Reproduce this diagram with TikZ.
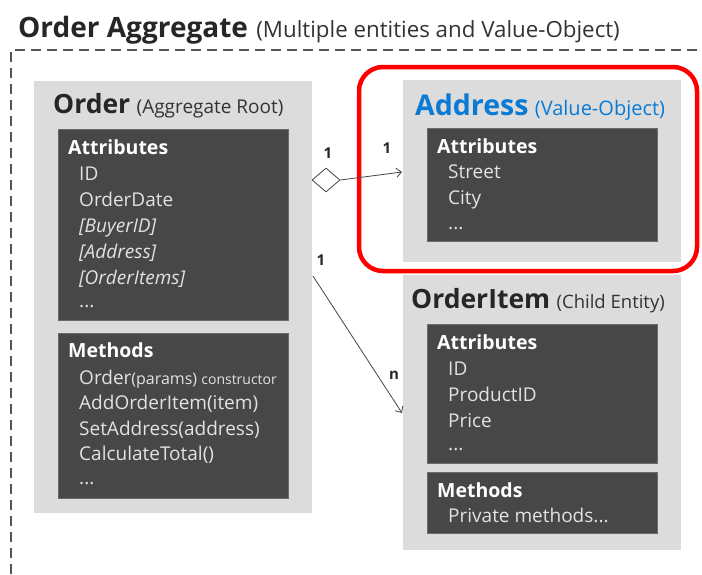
\documentclass[tikz,border=0pt]{standalone}
\usepackage{fontspec}
\setmainfont{Open Sans}
\usetikzlibrary{arrows.meta,shapes.geometric}
\definecolor{outergray}{HTML}{DCDCDC}
\definecolor{darkbox}{HTML}{474747}
\definecolor{darkedge}{HTML}{6A6A6A}
\definecolor{itemtext}{HTML}{E2E2E2}
\definecolor{msblue}{HTML}{0A7AD4}
\definecolor{linegray}{HTML}{444444}
\definecolor{framegray}{HTML}{555555}
\begin{document}
\begin{tikzpicture}[x=1pt,y=-1pt,
  outerbox/.style={fill=outergray,draw=none},
  innerbox/.style={fill=darkbox,draw=darkedge,line width=0.8pt},
  hdr/.style={anchor=base west,inner sep=0pt,text=white,font=\fontsize{19.5}{22}\selectfont\bfseries},
  item/.style={anchor=base west,inner sep=0pt,text=itemtext,font=\fontsize{19}{22}\selectfont},
  ititem/.style={item,font=\fontsize{19}{22}\selectfont\itshape},
  ttl/.style={anchor=base west,inner sep=0pt,text=black!85,font=\fontsize{26.5}{30}\selectfont\bfseries},
  sub/.style={anchor=base west,inner sep=0pt,text=black!80,font=\fontsize{19.5}{22}\selectfont},
  mult/.style={inner sep=0pt,font=\fontsize{15}{17}\selectfont\bfseries,text=black!85},
  conn/.style={draw=linegray,line width=0.8pt,-{Straight Barb[length=5pt,width=9pt]}}
]
\useasboundingbox (0,0) rectangle (702,574);
\fill[white] (0,0) rectangle (702,574);
% aggregate frame
\draw[framegray,line width=1.8pt,dash pattern=on 10pt off 6pt] (11,574) -- (11,50) -- (702,50);
\node[anchor=base west,inner sep=0pt,text=black!85,font=\fontsize{28}{32}\selectfont\bfseries] (aggT) at (18,37) {Order Aggregate};
\node[sub,font=\fontsize{22.3}{25}\selectfont] (aggS) at ([xshift=8pt]aggT.base east) {(Multiple entities and Value-Object)};

% Order
\fill[outergray] (34,81) rectangle (312,513);
\node[ttl] (ordT) at (53,113) {Order};
\node[sub,font=\fontsize{19}{22}\selectfont] (ordS) at ([xshift=6pt]ordT.base east) {(Aggregate Root)};
\draw[innerbox] (58,129) rectangle (288,320);
\node[hdr] (ordA) at (68,154) {Attributes};
\node[item] (o1) at (79,180) {ID};
\node[item] (o2) at (79,206.5) {OrderDate};
\node[ititem] (o3) at (79,232) {[BuyerID]};
\node[ititem] (o4) at (79,258) {[Address]};
\node[ititem] (o5) at (79,284) {[OrderItems]};
\node[item] (o6) at (79,307) {...};
\draw[innerbox] (58,333) rectangle (288,498);
\node[hdr] (ordM) at (68,357) {Methods};
\node[item] (m1) at (79,384) {Order\fontsize{16}{18}\selectfont(params) \fontsize{14}{16}\selectfont constructor};
\node[item] (m2) at (79,409.5) {AddOrderItem(item)};
\node[item] (m3) at (79,435) {SetAddress(address)};
\node[item] (m4) at (79,460) {CalculateTotal()};
\node[item] (m5) at (79,484) {...};

% Address
\draw[red,line width=4.5pt,rounded corners=24pt] (359,67) rectangle (697,271);
\fill[outergray] (403,80) rectangle (681,262);
\node[ttl,text=msblue,font=\fontsize{28.5}{32}\selectfont\bfseries] (adrT) at (415,115) {Address};
\node[sub,text=msblue,font=\fontsize{20}{23}\selectfont] (adrS) at ([xshift=6pt]adrT.base east) {(Value-Object)};
\draw[innerbox] (427,128) rectangle (657,241);
\node[hdr] (adrA) at (437,153) {Attributes};
\node[item] (a1) at (448,178) {Street};
\node[item] (a2) at (448,204) {City};
\node[item] (a3) at (448,229) {...};

% OrderItem
\fill[outergray] (403,275) rectangle (681,550);
\node[ttl] (oiT) at (411,308) {OrderItem};
\node[sub,font=\fontsize{18.5}{22}\selectfont] (oiS) at ([xshift=6pt]oiT.base east) {(Child Entity)};
\draw[innerbox] (427,324) rectangle (657,463);
\node[hdr] (oiA) at (437,349) {Attributes};
\node[item] (i1) at (448,375) {ID};
\node[item] (i2) at (448,401) {ProductID};
\node[item] (i3) at (448,427) {Price};
\node[item] (i4) at (448,450) {...};
\draw[innerbox] (427,472) rectangle (657,533);
\node[hdr] (oiM) at (437,497) {Methods};
\node[item] (p1) at (448,522) {Private methods...};

% connectors
\node[diamond,draw=linegray,fill=white,line width=0.8pt,minimum width=28pt,minimum height=24pt,inner sep=0pt] (dia) at (326,180) {};
\coordinate (adrIn) at (402,172);
\draw[conn] (dia.east) -- (adrIn);
\coordinate (ordOut) at (313,276);
\coordinate (oiIn) at (402,413);
\draw[conn] (ordOut) -- (oiIn);
\node[mult] (l1) at (328,153) {1};
\node[mult] (l2) at (387,148) {1};
\node[mult] (l3) at (321,260) {1};
\node[mult] (l4) at (394,375) {n};
\end{tikzpicture}
\end{document}
